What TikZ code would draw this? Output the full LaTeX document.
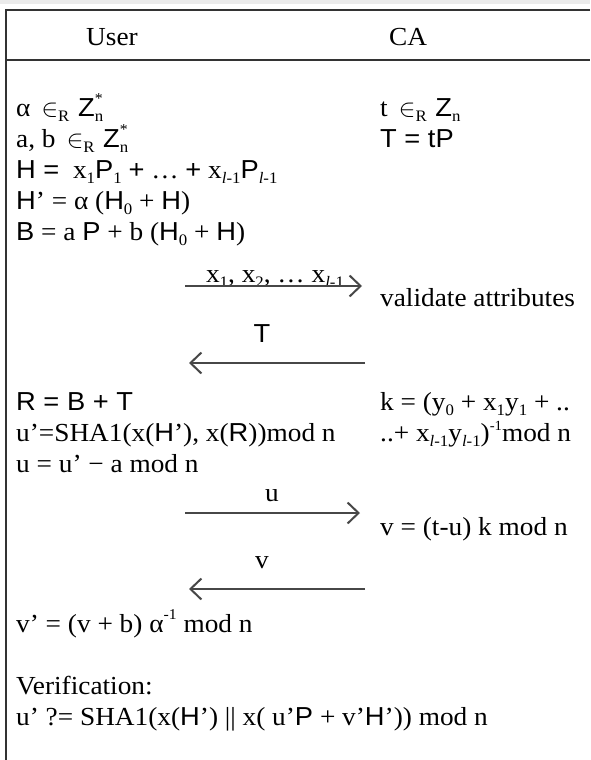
\documentclass[tikz,border=0pt]{standalone}
\usepackage{fontspec}
\setmainfont{Liberation Serif}[FakeStretch=1.05]
\newfontfamily\arf{Liberation Sans}[FakeStretch=1.05]
\usetikzlibrary{arrows.meta}
\newcommand\mysub[1]{\raisebox{-0.22em}{\fontsize{16}{16}\selectfont #1}}
\newcommand\mysup[1]{\raisebox{0.5em}{\fontsize{15}{15}\selectfont #1}}
\begin{document}
\begin{tikzpicture}[x=1pt,y=-1pt,
  txt/.style={anchor=base west, inner sep=0pt, font=\fontsize{26}{30}\selectfont},
  lbl/.style={anchor=base, inner sep=0pt, font=\fontsize{26}{30}\selectfont},
  msg/.style={line width=2pt, draw=black!72, -{Straight Barb[length=11pt,width=21pt]}},
  frameline/.style={line width=2pt, draw=black!80}]
\useasboundingbox (0,0) rectangle (590,760);
\fill[black!8] (0,0) rectangle (590,4);
% frame
\coordinate (tl) at (6,10); \coordinate (tr) at (590,10);
\coordinate (hl) at (6,60); \coordinate (hr) at (590,60);
\coordinate (bl) at (6,760);
\draw[frameline] (tr) -- (tl) -- (bl);
\draw[frameline] (hl) -- (hr);
% header
\node[lbl] (user) at (112,46) {User};
\node[lbl] (ca) at (408,46) {CA};
% user column
\node[txt] (l1) at (16,116) {α\ \,$\in$\mysub{R}\,\,{\arf Z}\rlap{\mysup{*}}\mysub{n}};
\node[txt] (l2) at (16,147) {a, b\ \,$\in$\mysub{R}\,\,{\arf Z}\rlap{\mysup{*}}\mysub{n}};
\node[txt] (l3) at (16,178) {{\arf H =}\ \ x\mysub{1}{\arf P}\mysub{1} {\arf +} … {\arf +} x\mysub{\textit{l}-1}{\arf P}\mysub{\textit{l}-1}};
\node[txt] (l4) at (16,209) {{\arf H}’ = α ({\arf H}\mysub{0} + {\arf H})};
\node[txt] (l5) at (16,240) {{\arf B} = a {\arf P} + b ({\arf H}\mysub{0} + {\arf H})};
\node[txt] (l6) at (16,410) {\arf R = B + T};
\node[txt] (l7) at (16,441) {u’=SHA1(x({\arf H}’), x({\arf R}))mod n};
\node[txt] (l8) at (16,472) {u = u’ − a mod n};
\node[txt] (l9) at (16,632) {v’ = (v + b) α\mysup{-1} mod n};
\node[txt] (l10) at (16,694) {Verification:};
\node[txt] (l11) at (16,725) {u’ ?= SHA1(x({\arf H}’) || x( u’{\arf P} + v’{\arf H}’)) mod n};
% CA column
\node[txt] (r1) at (380,116) {t\ \,$\in$\mysub{R}\,\,{\arf Z}\mysub{n}};
\node[txt] (r2) at (380,147) {\arf T = tP};
\node[txt] (r3) at (380,306) {validate attributes};
\node[txt] (r4) at (380,410) {k = (y\mysub{0} + x\mysub{1}y\mysub{1} + ..};
\node[txt] (r5) at (380,441) {..+ x\mysub{\textit{l}-1}y\mysub{\textit{l}-1})\raisebox{0.4em}{\fontsize{14}{14}\selectfont -1}mod n};
\node[txt] (r6) at (380,535) {v = (t-u) k mod n};
% messages
\node[lbl] (m1) at (275,282) {x\mysub{1}, x\mysub{2}, … x\mysub{\textit{l}-1}};
\coordinate (a1s) at (185,286); \coordinate (a1e) at (362,286);
\draw[msg] (a1s) -- (a1e);
\node[lbl] (m2) at (262,342) {\arf T};
\coordinate (a2s) at (365,363); \coordinate (a2e) at (189,363);
\draw[msg] (a2s) -- (a2e);
\node[lbl] (m3) at (272,501) {u};
\coordinate (a3s) at (185,513); \coordinate (a3e) at (360,513);
\draw[msg] (a3s) -- (a3e);
\node[lbl] (m4) at (262,568) {v};
\coordinate (a4s) at (365,589); \coordinate (a4e) at (189,589);
\draw[msg] (a4s) -- (a4e);
\end{tikzpicture}
\end{document}
